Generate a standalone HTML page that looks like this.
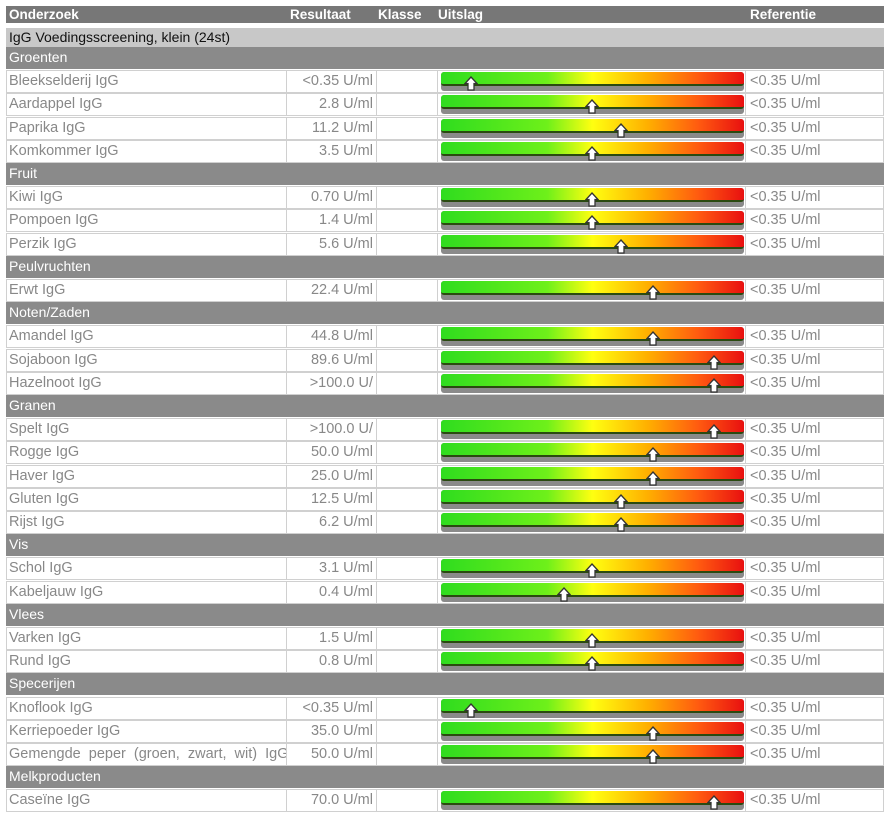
<!DOCTYPE html><html><head><meta charset="utf-8"><style>
body{margin:0;width:890px;height:820px;background:#fff;font-family:"Liberation Sans",Arial,sans-serif;position:relative;overflow:hidden}
div{position:absolute;box-sizing:border-box}
.h{left:6px;width:878px;top:6px;height:17px;background:#777;color:#fff;font-weight:bold;font-size:13.5px;line-height:17px}
.h span{position:absolute}
.s{left:6px;width:878px;top:28px;height:19px;background:#c8c8c8;color:#111;font-size:14px;line-height:19px;padding-left:3px}
.g{left:6px;width:878px;height:22px;background:#8a8a8a;color:#fff;font-size:14px;line-height:20px;padding-left:3px}
.r{left:6px;width:878px;height:23px;border:1px solid #d0d0d0;color:#888;font-size:14.5px;line-height:20px}
.r .a,.r .b,.r .c,.r .e{position:absolute;top:0;height:21px;border-right:1px solid #d0d0d0}
.a{left:0;width:280px;padding-left:2px;white-space:nowrap;overflow:hidden}
.b{left:280px;width:90px;text-align:right;padding-right:3px}
.c{left:370px;width:61px}
.e{left:431px;width:308px}
.f{left:740px;padding-left:3px;top:0}
.bar{left:3px;top:1px;width:303px;height:19px;background:#8a8a8a;border-radius:3px}
.bar i{position:absolute;left:0;top:0;width:303px;height:14px;border-radius:3px;border-bottom:2px solid #2a4a10;background:linear-gradient(90deg,#2fdc1f 0%,#6ef01a 35%,#ffff10 50%,#ffb000 68%,#ff5a10 85%,#e81010 100%);box-sizing:border-box}
.bar svg{position:absolute;top:4px;margin-left:-1px}
</style></head><body>
<div class="h"><span style="left:3px">Onderzoek</span><span style="left:284px">Resultaat</span><span style="left:372px">Klasse</span><span style="left:432px">Uitslag</span><span style="left:744px">Referentie</span></div>
<div class="s">IgG Voedingsscreening, klein (24st)</div>

<div class="g" style="top:47px">Groenten</div>
<div class="r" style="top:70px"><div class="a">Bleekselderij IgG</div><div class="b">&lt;0.35 U/ml</div><div class="c"></div><div class="e"><div class="bar"><i></i><svg width="14" height="15" style="left:24px"><path d="M7 1L13 7.5H10V14H4V7.5H1Z" fill="#fff" stroke="#333" stroke-width="1.3"/></svg></div></div><div class="f">&lt;0.35 U/ml</div></div>
<div class="r" style="top:93px"><div class="a">Aardappel IgG</div><div class="b">2.8 U/ml</div><div class="c"></div><div class="e"><div class="bar"><i></i><svg width="14" height="15" style="left:145px"><path d="M7 1L13 7.5H10V14H4V7.5H1Z" fill="#fff" stroke="#333" stroke-width="1.3"/></svg></div></div><div class="f">&lt;0.35 U/ml</div></div>
<div class="r" style="top:117px"><div class="a">Paprika IgG</div><div class="b">11.2 U/ml</div><div class="c"></div><div class="e"><div class="bar"><i></i><svg width="14" height="15" style="left:174px"><path d="M7 1L13 7.5H10V14H4V7.5H1Z" fill="#fff" stroke="#333" stroke-width="1.3"/></svg></div></div><div class="f">&lt;0.35 U/ml</div></div>
<div class="r" style="top:140px"><div class="a">Komkommer IgG</div><div class="b">3.5 U/ml</div><div class="c"></div><div class="e"><div class="bar"><i></i><svg width="14" height="15" style="left:145px"><path d="M7 1L13 7.5H10V14H4V7.5H1Z" fill="#fff" stroke="#333" stroke-width="1.3"/></svg></div></div><div class="f">&lt;0.35 U/ml</div></div>

<div class="g" style="top:163px">Fruit</div>
<div class="r" style="top:186px"><div class="a">Kiwi IgG</div><div class="b">0.70 U/ml</div><div class="c"></div><div class="e"><div class="bar"><i></i><svg width="14" height="15" style="left:145px"><path d="M7 1L13 7.5H10V14H4V7.5H1Z" fill="#fff" stroke="#333" stroke-width="1.3"/></svg></div></div><div class="f">&lt;0.35 U/ml</div></div>
<div class="r" style="top:209px"><div class="a">Pompoen IgG</div><div class="b">1.4 U/ml</div><div class="c"></div><div class="e"><div class="bar"><i></i><svg width="14" height="15" style="left:145px"><path d="M7 1L13 7.5H10V14H4V7.5H1Z" fill="#fff" stroke="#333" stroke-width="1.3"/></svg></div></div><div class="f">&lt;0.35 U/ml</div></div>
<div class="r" style="top:233px"><div class="a">Perzik IgG</div><div class="b">5.6 U/ml</div><div class="c"></div><div class="e"><div class="bar"><i></i><svg width="14" height="15" style="left:174px"><path d="M7 1L13 7.5H10V14H4V7.5H1Z" fill="#fff" stroke="#333" stroke-width="1.3"/></svg></div></div><div class="f">&lt;0.35 U/ml</div></div>

<div class="g" style="top:256px">Peulvruchten</div>
<div class="r" style="top:279px"><div class="a">Erwt IgG</div><div class="b">22.4 U/ml</div><div class="c"></div><div class="e"><div class="bar"><i></i><svg width="14" height="15" style="left:206px"><path d="M7 1L13 7.5H10V14H4V7.5H1Z" fill="#fff" stroke="#333" stroke-width="1.3"/></svg></div></div><div class="f">&lt;0.35 U/ml</div></div>

<div class="g" style="top:302px">Noten/Zaden</div>
<div class="r" style="top:325px"><div class="a">Amandel IgG</div><div class="b">44.8 U/ml</div><div class="c"></div><div class="e"><div class="bar"><i></i><svg width="14" height="15" style="left:206px"><path d="M7 1L13 7.5H10V14H4V7.5H1Z" fill="#fff" stroke="#333" stroke-width="1.3"/></svg></div></div><div class="f">&lt;0.35 U/ml</div></div>
<div class="r" style="top:349px"><div class="a">Sojaboon IgG</div><div class="b">89.6 U/ml</div><div class="c"></div><div class="e"><div class="bar"><i></i><svg width="14" height="15" style="left:267px"><path d="M7 1L13 7.5H10V14H4V7.5H1Z" fill="#fff" stroke="#333" stroke-width="1.3"/></svg></div></div><div class="f">&lt;0.35 U/ml</div></div>
<div class="r" style="top:372px"><div class="a">Hazelnoot IgG</div><div class="b">&gt;100.0 U/</div><div class="c"></div><div class="e"><div class="bar"><i></i><svg width="14" height="15" style="left:267px"><path d="M7 1L13 7.5H10V14H4V7.5H1Z" fill="#fff" stroke="#333" stroke-width="1.3"/></svg></div></div><div class="f">&lt;0.35 U/ml</div></div>

<div class="g" style="top:395px">Granen</div>
<div class="r" style="top:418px"><div class="a">Spelt IgG</div><div class="b">&gt;100.0 U/</div><div class="c"></div><div class="e"><div class="bar"><i></i><svg width="14" height="15" style="left:267px"><path d="M7 1L13 7.5H10V14H4V7.5H1Z" fill="#fff" stroke="#333" stroke-width="1.3"/></svg></div></div><div class="f">&lt;0.35 U/ml</div></div>
<div class="r" style="top:441px"><div class="a">Rogge IgG</div><div class="b">50.0 U/ml</div><div class="c"></div><div class="e"><div class="bar"><i></i><svg width="14" height="15" style="left:206px"><path d="M7 1L13 7.5H10V14H4V7.5H1Z" fill="#fff" stroke="#333" stroke-width="1.3"/></svg></div></div><div class="f">&lt;0.35 U/ml</div></div>
<div class="r" style="top:465px"><div class="a">Haver IgG</div><div class="b">25.0 U/ml</div><div class="c"></div><div class="e"><div class="bar"><i></i><svg width="14" height="15" style="left:206px"><path d="M7 1L13 7.5H10V14H4V7.5H1Z" fill="#fff" stroke="#333" stroke-width="1.3"/></svg></div></div><div class="f">&lt;0.35 U/ml</div></div>
<div class="r" style="top:488px"><div class="a">Gluten IgG</div><div class="b">12.5 U/ml</div><div class="c"></div><div class="e"><div class="bar"><i></i><svg width="14" height="15" style="left:174px"><path d="M7 1L13 7.5H10V14H4V7.5H1Z" fill="#fff" stroke="#333" stroke-width="1.3"/></svg></div></div><div class="f">&lt;0.35 U/ml</div></div>
<div class="r" style="top:511px"><div class="a">Rijst IgG</div><div class="b">6.2 U/ml</div><div class="c"></div><div class="e"><div class="bar"><i></i><svg width="14" height="15" style="left:174px"><path d="M7 1L13 7.5H10V14H4V7.5H1Z" fill="#fff" stroke="#333" stroke-width="1.3"/></svg></div></div><div class="f">&lt;0.35 U/ml</div></div>

<div class="g" style="top:534px">Vis</div>
<div class="r" style="top:557px"><div class="a">Schol IgG</div><div class="b">3.1 U/ml</div><div class="c"></div><div class="e"><div class="bar"><i></i><svg width="14" height="15" style="left:145px"><path d="M7 1L13 7.5H10V14H4V7.5H1Z" fill="#fff" stroke="#333" stroke-width="1.3"/></svg></div></div><div class="f">&lt;0.35 U/ml</div></div>
<div class="r" style="top:581px"><div class="a">Kabeljauw IgG</div><div class="b">0.4 U/ml</div><div class="c"></div><div class="e"><div class="bar"><i></i><svg width="14" height="15" style="left:117px"><path d="M7 1L13 7.5H10V14H4V7.5H1Z" fill="#fff" stroke="#333" stroke-width="1.3"/></svg></div></div><div class="f">&lt;0.35 U/ml</div></div>

<div class="g" style="top:604px">Vlees</div>
<div class="r" style="top:627px"><div class="a">Varken IgG</div><div class="b">1.5 U/ml</div><div class="c"></div><div class="e"><div class="bar"><i></i><svg width="14" height="15" style="left:145px"><path d="M7 1L13 7.5H10V14H4V7.5H1Z" fill="#fff" stroke="#333" stroke-width="1.3"/></svg></div></div><div class="f">&lt;0.35 U/ml</div></div>
<div class="r" style="top:650px"><div class="a">Rund IgG</div><div class="b">0.8 U/ml</div><div class="c"></div><div class="e"><div class="bar"><i></i><svg width="14" height="15" style="left:145px"><path d="M7 1L13 7.5H10V14H4V7.5H1Z" fill="#fff" stroke="#333" stroke-width="1.3"/></svg></div></div><div class="f">&lt;0.35 U/ml</div></div>

<div class="g" style="top:673px">Specerijen</div>
<div class="r" style="top:697px"><div class="a">Knoflook IgG</div><div class="b">&lt;0.35 U/ml</div><div class="c"></div><div class="e"><div class="bar"><i></i><svg width="14" height="15" style="left:24px"><path d="M7 1L13 7.5H10V14H4V7.5H1Z" fill="#fff" stroke="#333" stroke-width="1.3"/></svg></div></div><div class="f">&lt;0.35 U/ml</div></div>
<div class="r" style="top:720px"><div class="a">Kerriepoeder IgG</div><div class="b">35.0 U/ml</div><div class="c"></div><div class="e"><div class="bar"><i></i><svg width="14" height="15" style="left:206px"><path d="M7 1L13 7.5H10V14H4V7.5H1Z" fill="#fff" stroke="#333" stroke-width="1.3"/></svg></div></div><div class="f">&lt;0.35 U/ml</div></div>
<div class="r" style="top:743px"><div class="a" style="word-spacing:4px">Gemengde peper (groen, zwart, wit) IgG</div><div class="b">50.0 U/ml</div><div class="c"></div><div class="e"><div class="bar"><i></i><svg width="14" height="15" style="left:206px"><path d="M7 1L13 7.5H10V14H4V7.5H1Z" fill="#fff" stroke="#333" stroke-width="1.3"/></svg></div></div><div class="f">&lt;0.35 U/ml</div></div>

<div class="g" style="top:766px">Melkproducten</div>
<div class="r" style="top:789px"><div class="a">Caseïne IgG</div><div class="b">70.0 U/ml</div><div class="c"></div><div class="e"><div class="bar"><i></i><svg width="14" height="15" style="left:267px"><path d="M7 1L13 7.5H10V14H4V7.5H1Z" fill="#fff" stroke="#333" stroke-width="1.3"/></svg></div></div><div class="f">&lt;0.35 U/ml</div></div>
</body></html>
